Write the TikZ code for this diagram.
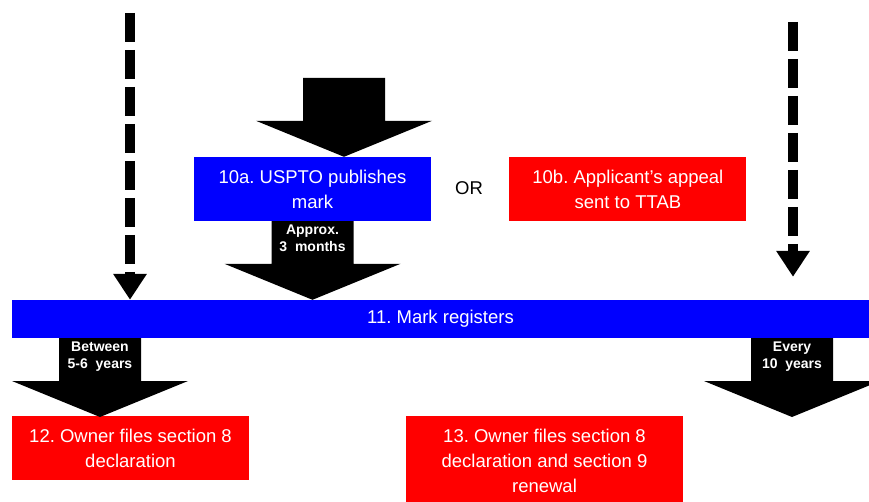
\documentclass[tikz,border=0pt]{standalone}
\usepackage{fontspec}
\setmainfont{Liberation Sans}
\usetikzlibrary{arrows.meta,positioning,calc}
\frenchspacing

\definecolor{markblue}{RGB}{0,0,255}
\definecolor{markred}{RGB}{255,0,0}

% big black arrow: shaft starts at the height of #1, tip at #2
\newcommand{\blockarrow}[3]{%
  \fill let \p1=(#1), \p2=(#2) in
    (\x2-41pt,\y1) -- (\x2-41pt,\y2+36pt) -- (\x2-88pt,\y2+36pt) -- (\x2,\y2)
    -- (\x2+88pt,\y2+36pt) -- (\x2+41pt,\y2+36pt) -- (\x2+41pt,\y1) -- cycle
    (\x2,\y1-3pt) node[waitlabel] {#3};}

\begin{document}
\begin{tikzpicture}[x=1pt,y=-1pt,
    box/.style={inner sep=0pt, align=center, text=white, minimum width=237pt,
      minimum height=64pt, font=\fontsize{18.5}{25}\selectfont},
    bluebox/.style={box, fill=markblue},
    redbox/.style={box, fill=markred},
    waitlabel/.style={anchor=north, inner sep=0pt, align=center, text=white,
      font=\fontsize{14}{17}\selectfont\bfseries},
    dasharrow/.style={line width=10pt, dash pattern=on 29pt off 8pt,
      -{Triangle[width=32pt,length=26pt]}}]

  \useasboundingbox (0,0) rectangle (869,502);

  \node[bluebox] (pub) at (312.5,189) {10a. USPTO publishes\\mark};
  \node[redbox] (appeal) [right=78pt of pub] {10b. Applicant’s appeal\\sent to TTAB};
  \node[font=\fontsize{18.5}{25}\selectfont] (or) at (469,188) {OR};
  \node[bluebox, minimum width=857pt, minimum height=38pt] (reg) at (440.5,319) {11. Mark registers};
  \node[redbox] (sec8) at (130.5,448) {12. Owner files section 8\\declaration};
  \node[redbox, minimum width=277pt, minimum height=90pt] (renew) at (544.5,461)
    {13. Owner files section 8\\declaration and section 9\\renewal};

  \coordinate (ltop) at (130,13);
  \coordinate (rtop) at (793,22);
  \coordinate (pubtop) at (344,78);
  \coordinate (fiveyr) at (100,417);
  \coordinate (tenyr) at (792,417);

  \draw[dasharrow] (ltop) -- (ltop |- reg.north);
  \draw[dasharrow, shorten >=23pt] (rtop) -- (rtop |- reg.north);

  \blockarrow{pubtop}{pubtop |- pub.north}{}
  \blockarrow{pub.south}{pub.south |- reg.north}{Approx.\\3~ months}
  \blockarrow{reg.south}{fiveyr}{Between\\5-6~ years}
  \blockarrow{reg.south}{tenyr}{Every\\10~ years}

\end{tikzpicture}
\end{document}
